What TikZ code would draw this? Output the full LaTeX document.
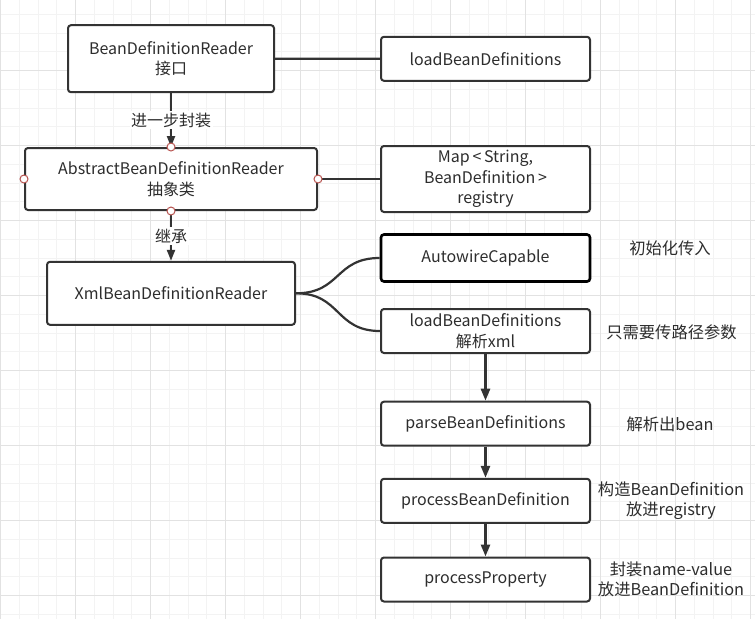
\documentclass[tikz,border=0pt]{standalone}
\usepackage{fontspec}
\setmainfont{Noto Sans CJK SC}
\usetikzlibrary{arrows.meta,positioning}
\definecolor{linecol}{RGB}{51,51,51}
\definecolor{textcol}{RGB}{45,45,45}
\definecolor{portcol}{RGB}{184,84,80}
\definecolor{gridminor}{RGB}{243,243,243}
\definecolor{gridmajor}{RGB}{226,226,226}
\tikzset{
  boxnode/.style={
    rectangle, draw=linecol, line width=2pt, fill=white,
    rounded corners=3pt, align=center, text=textcol,
    font=\fontsize{16}{20.5}\selectfont, inner sep=0pt
  },
  strongbox/.style={boxnode, draw=black, line width=2.6pt},
  portnode/.style={
    circle, draw=portcol, fill=white, line width=1pt,
    minimum size=8pt, inner sep=0pt
  },
  notenode/.style={align=center, text=textcol, font=\fontsize{16.3}{20}\selectfont, inner sep=0pt},
  edgelabel/.style={fill=white, text=textcol, font=\fontsize{16}{18}\selectfont, inner sep=1.5pt},
  linkedge/.style={line width=2.2pt, draw=linecol},
  flowarrow/.style={-{Triangle[width=9pt,length=12pt]}, line width=2.6pt, draw=linecol},
}

\begin{document}
\begin{tikzpicture}[x=1pt, y=-1pt]

  % ── Canvas and grid ──
  \useasboundingbox (0,0) rectangle (755,619);
  \fill[white] (0,0) rectangle (755,619);
  \foreach \gx in {0,...,40} {
    \draw[gridminor, line width=1pt] ({0.7+18.75*\gx},0) -- ({0.7+18.75*\gx},619);
  }
  \foreach \gy in {0,...,33} {
    \draw[gridminor, line width=1pt] (0,{-4.3+18.75*\gy}) -- (755,{-4.3+18.75*\gy});
  }
  \foreach \gx in {0,...,10} {
    \draw[gridmajor, line width=1pt] ({0.7+75*\gx},0) -- ({0.7+75*\gx},619);
  }
  \foreach \gy in {1,...,8} {
    \draw[gridmajor, line width=1pt] (0,{-4.3+75*\gy}) -- (755,{-4.3+75*\gy});
  }

  % ── Left column: reader hierarchy ──
  \node[boxnode, minimum width=206, minimum height=67] (reader) at (171,58.7)
    {BeanDefinitionReader\\接口};
  \node[boxnode, minimum width=292, minimum height=62] (abstract) at (171,179)
    {AbstractBeanDefinitionReader\\抽象类};
  \node[boxnode, minimum width=248, minimum height=63] (xml) at (171,293.3)
    {XmlBeanDefinitionReader};

  % ── Right column: members and call chain ──
  \node[boxnode, minimum width=209, minimum height=44] (load) at (485.5,58.8)
    {loadBeanDefinitions};
  \node[boxnode, minimum width=209, minimum height=66] (registry) at (485.5,179)
    {Map\,<\,String,\\BeanDefinition\,>\\registry};
  \node[strongbox, minimum width=209, minimum height=47] (autowire) at (485.5,258)
    {AutowireCapable};
  \node[boxnode, minimum width=209, minimum height=44] (loadxml) at (485.5,331)
    {loadBeanDefinitions\\解析xml};
  \node[boxnode, minimum width=209, minimum height=44] (parse) at (485.5,423.7)
    {parseBeanDefinitions};
  \node[boxnode, minimum width=209, minimum height=44] (process) at (485.5,500.8)
    {processBeanDefinition};
  \node[boxnode, minimum width=209, minimum height=44] (property) at (485.5,579.5)
    {processProperty};

  % ── Side notes ──
  \node[notenode] (noteinit)  at (670,248)   {初始化传入};
  \node[notenode] (notepath)  at (671.5,332) {只需要传路径参数};
  \node[notenode] (noteparse) at (670,424)   {解析出bean};
  \node[notenode] (notereg)   at (671,501)   {构造BeanDefinition\\放进registry};
  \node[notenode] (noteprop)  at (671,579)   {封装name-value\\放进BeanDefinition};

  % ── Connectors ──
  \draw[linkedge] (reader.east) -- (load.west);
  \draw[linkedge] (abstract.east) -- (registry.west);
  \draw[linkedge, -{Triangle[width=8pt,length=11pt]}] (reader.south) -- (abstract.north)
    node[edgelabel, pos=0.5] (lblwrap) {进一步封装};
  \draw[linkedge, -{Triangle[width=8pt,length=11pt]}] (abstract.south) -- (xml.north)
    node[edgelabel, pos=0.5] (lblext) {继承};
  \draw[linkedge] (xml.east) .. controls +(45,0) and +(-45,0) .. (autowire.west);
  \draw[linkedge] (xml.east) .. controls +(45,0) and +(-45,0) .. (loadxml.west);
  \draw[flowarrow] (loadxml.south) -- (parse.north);
  \draw[flowarrow] (parse.south) -- (process.north);
  \draw[flowarrow] (process.south) -- (property.north);

  % ── Connection ports on the abstract reader ──
  \node[portnode] (pnorth) at (abstract.north) {};
  \node[portnode] (psouth) at (abstract.south) {};
  \node[portnode] (pwest)  at (abstract.west)  {};
  \node[portnode] (peast)  at (abstract.east)  {};

\end{tikzpicture}
\end{document}
